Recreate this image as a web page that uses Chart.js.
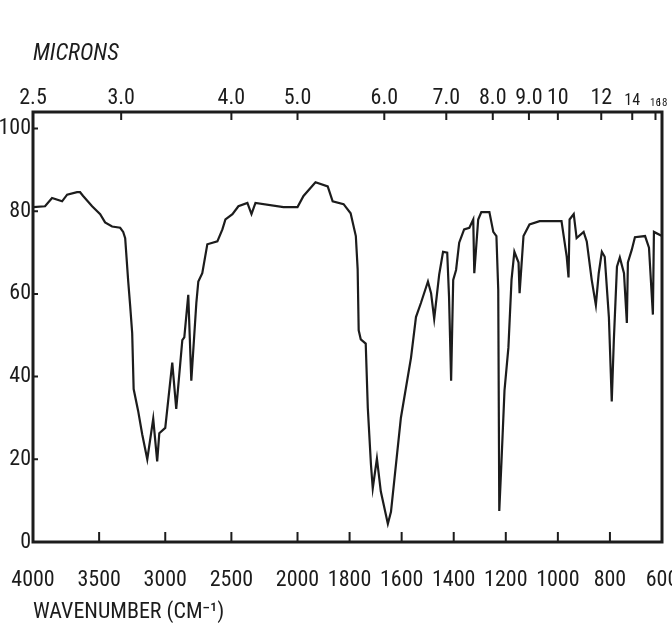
<!DOCTYPE html>
<html>
<head>
<meta charset="utf-8">
<script src="https://cdn.jsdelivr.net/npm/chart.js@4"></script>
<style>
  html, body { margin: 0; padding: 0; background: #fff; overflow: hidden; }
  #wrap { width: 672px; height: 639px; }
</style>
</head>
<body>
<div id="wrap"><canvas id="irChart" width="672" height="639"></canvas></div>
<script>
// spectrum: wavenumber (cm-1) and % transmittance
const wavenumbers = [
  4000, 3909, 3856, 3780, 3742, 3667, 3644, 3621, 3553, 3492, 3455, 3402, 3341, 3318,
  3303, 3280, 3265, 3250, 3239, 3205, 3174, 3136, 3091, 3061, 3045, 3000, 2947, 2917,
  2871, 2856, 2826, 2803, 2765, 2750, 2720, 2682, 2606, 2568, 2545, 2492, 2447, 2379,
  2348, 2318, 2106, 2000, 1977, 1931, 1884, 1865, 1823, 1796, 1776, 1769, 1765, 1757,
  1738, 1730, 1718, 1711, 1695, 1680, 1653, 1641, 1603, 1564, 1545, 1526, 1499, 1487,
  1475, 1456, 1441, 1425, 1418, 1410, 1402, 1391, 1379, 1360, 1340, 1325, 1321, 1306,
  1294, 1263, 1248, 1236, 1229, 1225, 1217, 1205, 1190, 1178, 1167, 1151, 1147, 1132,
  1109, 1070, 986, 966, 959, 955, 939, 928, 901, 889, 870, 854, 843, 831, 820, 804,
  793, 785, 773, 762, 746, 735, 731, 716, 704, 665, 650, 635, 631, 600
];
const transmittance = [
  81, 81.2, 83.2, 82.4, 84, 84.6, 84.6, 83.7, 81.2, 79.3, 77.3, 76.3, 76, 75,
  73.5, 63, 57, 50.5, 37, 31.7, 26, 20, 29.8, 19.5, 26.3, 27.6, 43.4, 32.2,
  48.8, 49.5, 59.8, 39, 57.8, 63, 65, 72, 72.7, 75.6, 78, 79.3, 81.2, 82,
  79.3, 82, 81, 81, 83.7, 87, 86, 82.4, 81.7, 79.5, 74, 66, 51.2, 49,
  48, 32.4, 18.8, 13, 20.2, 12.2, 4.4, 7.3, 30, 44.6, 54.4, 57.8, 63, 60.2,
  54, 64.6, 70.2, 70, 59.3, 39, 63.4, 65.8, 72.4, 75.6, 76, 78, 65, 78,
  79.8, 79.8, 75, 74, 61, 7.5, 18.8, 36.6, 47, 63.4, 70.2, 67.6, 60.2, 74,
  76.8, 77.6, 77.6, 69, 64, 78, 79.3, 73.5, 75, 72.7, 63.4, 57.3, 65, 70.2, 69, 54.4,
  34, 48.8, 66.6, 68.8, 65, 53, 67.6, 70.7, 73.7, 74, 71.2, 55, 75, 74
];

const wnTicks = [4000, 3500, 3000, 2500, 2000, 1800, 1600, 1400, 1200, 1000, 800, 600];
const micronTicks = [2.5, 3, 4, 5, 6, 7, 8, 9, 10, 12, 14, 16, 18];
const micronLabels = ["2.5", "3.0", "4.0", "5.0", "6.0", "7.0", "8.0", "9.0", "10", "12", "14", "16", "18"];
const yTicks = [0, 20, 40, 60, 80, 100];

// the chart paper changes scale at 2000 cm-1: 500 per division above, 200 per division below
function wnToPos(wn) {
  if (wn >= 2000) return (4000 - wn) / 500 * 1.27;
  return 4 * 1.27 + (2000 - wn) / 200;
}

const FONT = "'Roboto Condensed', 'Liberation Sans Narrow', 'DejaVu Sans Condensed', 'Noto Sans', sans-serif";
const INK = "#1c1c1c";

const points = wavenumbers.map((w, i) => ({ x: wnToPos(w), y: transmittance[i] }));

const frame = {
  id: "frame",
  afterDraw(chart) {
    const { ctx, chartArea: a, scales } = chart;
    ctx.save();
    ctx.strokeStyle = INK;
    ctx.lineWidth = 3;
    ctx.strokeRect(a.left, a.top, a.right - a.left, a.bottom - a.top);
    ctx.lineWidth = 2;
    ctx.beginPath();
    scales.x.ticks.forEach(t => {
      const px = scales.x.getPixelForValue(t.value);
      ctx.moveTo(px, a.bottom); ctx.lineTo(px, a.bottom - 10);
    });
    scales.x2.ticks.forEach(t => {
      const px = scales.x2.getPixelForValue(t.value);
      ctx.moveTo(px, a.top); ctx.lineTo(px, a.top + 8);
    });
    scales.y.ticks.forEach(t => {
      const py = scales.y.getPixelForValue(t.value);
      ctx.moveTo(a.left, py); ctx.lineTo(a.left + 5, py);
    });
    ctx.stroke();
    ctx.restore();
  }
};

const xMax = wnToPos(600);

new Chart(document.getElementById("irChart"), {
  type: "line",
  data: {
    datasets: [{
      data: points,
      borderColor: INK,
      borderWidth: 2.2,
      pointRadius: 0,
      tension: 0,
      fill: false
    }]
  },
  options: {
    responsive: false,
    animation: false,
    layout: { padding: { left: 0, right: 10, top: 0, bottom: 0 } },
    plugins: { legend: { display: false }, tooltip: { enabled: false } },
    scales: {
      x: {
        type: "linear",
        position: "bottom",
        min: 0,
        max: xMax,
        grid: { display: false, drawTicks: false },
        border: { display: false },
        afterBuildTicks: s => { s.ticks = wnTicks.map(w => ({ value: wnToPos(w) })); },
        afterFit: s => { s.paddingLeft = 0; s.paddingRight = 0; s.height = 97; },
        ticks: {
          autoSkip: false,
          maxRotation: 0,
          padding: 27,
          color: INK,
          font: { family: FONT, size: 22, lineHeight: 1 },
          callback: (v, i) => String(wnTicks[i])
        },
        title: {
          display: true,
          text: "WAVENUMBER (CM\u207B\u00B9)",
          align: "start",
          color: INK,
          font: { family: FONT, size: 22 },
          padding: { top: 0, bottom: 13 }
        }
      },
      x2: {
        type: "linear",
        position: "top",
        min: 0,
        max: xMax,
        grid: { display: false, drawTicks: false },
        border: { display: false },
        afterBuildTicks: s => {
          s.ticks = micronTicks.map(m => ({ value: wnToPos(Math.max(600, 10000 / m)) }));
        },
        afterFit: s => { s.paddingLeft = 0; s.paddingRight = 0; s.height = 112; },
        ticks: {
          autoSkip: false,
          maxRotation: 0,
          padding: 3,
          color: INK,
          font: c => ({ family: FONT, size: c.index >= 11 ? 11 : (c.index === 10 ? 16 : 22), lineHeight: 1 }),
          callback: (v, i) => micronLabels[i]
        },
        title: {
          display: true,
          text: "MICRONS",
          align: "start",
          color: INK,
          font: { family: FONT, size: 23, style: "italic" },
          padding: { top: 40, bottom: 5 }
        }
      },
      y: {
        min: 0,
        max: 104,
        grid: { display: false, drawTicks: false },
        border: { display: false },
        afterBuildTicks: s => { s.ticks = yTicks.map(v => ({ value: v })); },
        afterFit: s => { s.width = 33; },
        ticks: {
          padding: 2,
          color: INK,
          font: { family: FONT, size: 22 },
          callback: v => String(v)
        }
      }
    }
  },
  plugins: [frame]
});
</script>
</body>
</html>
